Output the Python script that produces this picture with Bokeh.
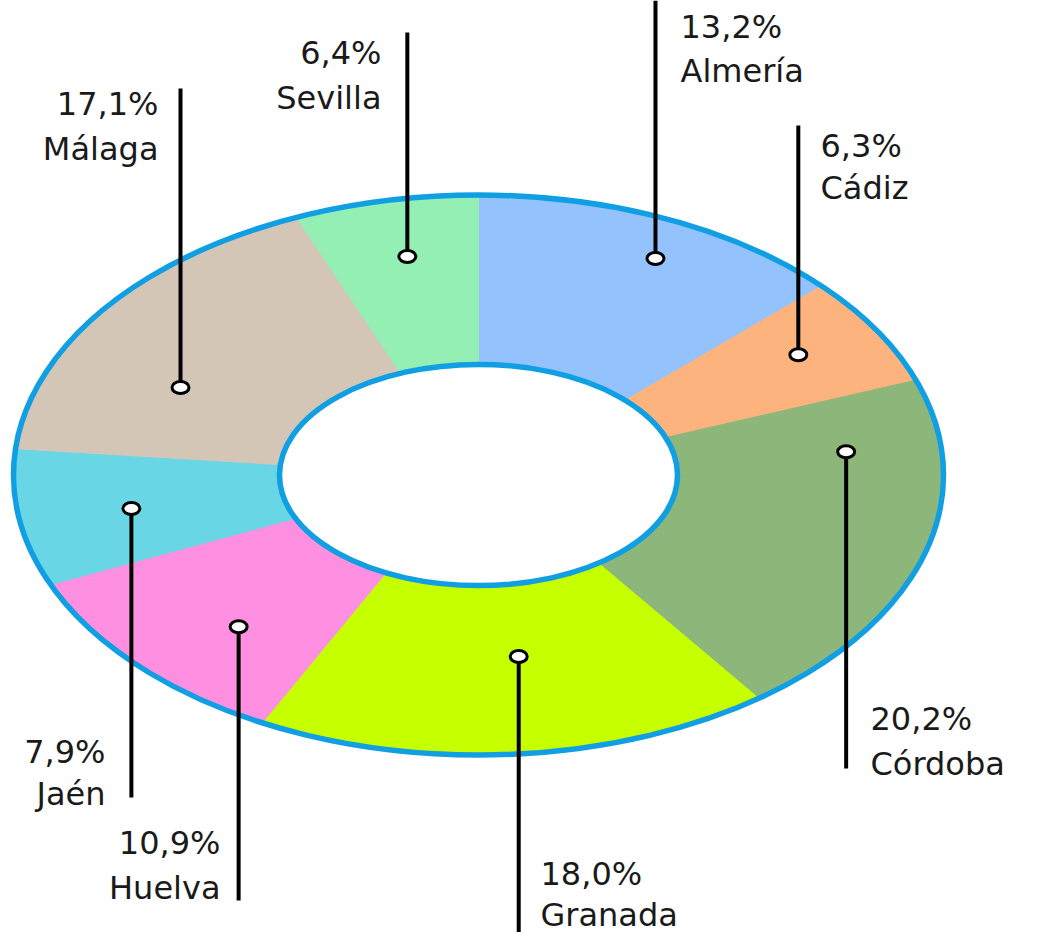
import math
from bokeh.plotting import figure
from bokeh.models import Range1d, ColumnDataSource
from bokeh.embed import file_html
from bokeh.resources import INLINE
from bokeh.core.properties import value

# ---- data -------------------------------------------------------------
provinces = ["Almería", "Cádiz", "Córdoba", "Granada", "Huelva", "Jaén", "Málaga", "Sevilla"]
shares = [13.2, 6.3, 20.2, 18.0, 10.9, 7.9, 17.1, 6.4]
share_labels = [f"{v:.1f}".replace(".", ",") + "%" for v in shares]

# ---- styles -----------------------------------------------------------
colors = ["#94c2fd", "#fdb37e", "#8db67a", "#c6ff00",
          "#ff8fe0", "#68d6e4", "#d4c6b7", "#93efb4"]
RING_BLUE = "#119fe3"
TEXT_COLOR = "#1a1a1a"
FONT = "DejaVu Sans"

# ---- layout (reference pixel frame) ----------------------------------
CX, CY, RX, RY = 478.0, 474.5, 465.0, 280.0   # ring centre / outer radii
INNER_X, INNER_Y = 0.428, 0.395               # hole radii as fraction of outer
W, H = 1038, 932
ORIGIN = 0


def X(px):
    return (px - CX) / RX


def Y(py):
    return (CY - py) / RY


# marker angle (deg clockwise from top), marker radius, leader end y,
# label anchor x, percentage centre y, name centre y, alignment
leaders = [
    (26.2, 0.862, 0, 680, 26, 70, "left"),
    (58.0, 0.811, 125, 820, 145, 187, "left"),
    (84.0, 0.795, 768, 870, 718, 763, "left"),
    (172.4, 0.654, 940, 540, 873, 914, "left"),
    (223.6, 0.748, 900, 220, 842, 887, "right"),
    (260.9, 0.756, 797, 105, 751, 793, "right"),
    (296.0, 0.713, 88, 158, 103, 148, "right"),
    (348.9, 0.795, 32, 381, 52, 97, "right"),
]

p = figure(width=W, height=H, output_backend="svg", toolbar_location=None,
           x_range=Range1d(X(ORIGIN), X(ORIGIN + W)),
           y_range=Range1d(Y(ORIGIN + H), Y(ORIGIN)),
           min_border=0)
p.axis.visible = False
p.grid.visible = False
p.outline_line_color = None
p.background_fill_color = "white"
p.border_fill_color = "white"

# ---- wedges -----------------------------------------------------------
total = sum(shares)
xs, ys = [], []
cum = 0.0
for v in shares:
    a0 = 2 * math.pi * cum / total
    cum += v
    a1 = 2 * math.pi * cum / total
    n = max(8, int(200 * v / total))
    outer = [a0 + (a1 - a0) * i / n for i in range(n + 1)]
    px_ = [math.sin(a) for a in outer] + [INNER_X * math.sin(a) for a in reversed(outer)]
    py_ = [math.cos(a) for a in outer] + [INNER_Y * math.cos(a) for a in reversed(outer)]
    xs.append(px_)
    ys.append(py_)

p.patches(xs=xs, ys=ys, fill_color=colors, line_color=colors, line_width=1)

# ring outlines
p.ellipse(x=[0, 0], y=[0, 0], width=[2, 2 * INNER_X], height=[2, 2 * INNER_Y],
          fill_color=None, line_color=RING_BLUE, line_width=5.5)

# ---- leaders ----------------------------------------------------------
mx = [r * math.sin(math.radians(a)) for a, r, *_ in leaders]
my = [r * math.cos(math.radians(a)) for a, r, *_ in leaders]
ey = [Y(l[2]) for l in leaders]
p.segment(x0=mx, y0=my, x1=mx, y1=ey, line_color="black", line_width=4)
p.ellipse(x=mx, y=my, width=17, height=12, width_units="screen", height_units="screen",
          fill_color="white", line_color="black", line_width=3)

# ---- labels -----------------------------------------------------------
for align in ("left", "right"):
    idx = [i for i, l in enumerate(leaders) if l[6] == align]
    src = ColumnDataSource(dict(
        x=[X(leaders[i][3]) for i in idx],
        yp=[Y(leaders[i][4]) for i in idx],
        yn=[Y(leaders[i][5]) for i in idx],
        pct=[share_labels[i] for i in idx],
        name=[provinces[i] for i in idx],
    ))
    for ycol, tcol in (("yp", "pct"), ("yn", "name")):
        p.text(x="x", y=ycol, text=tcol, source=src,
               text_font=value(FONT), text_font_size="32px",
               text_color=TEXT_COLOR, text_align=align,
               text_baseline="middle")

open("out.html", "w").write(file_html(p, INLINE))
